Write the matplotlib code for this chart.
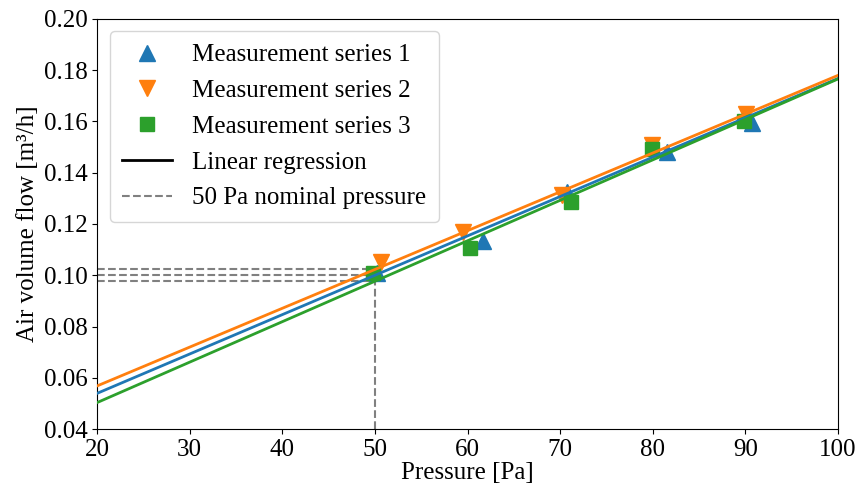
import matplotlib
matplotlib.use("Agg")
import matplotlib.pyplot as plt
from matplotlib.lines import Line2D

p1 = [50.2, 61.7, 70.7, 81.5, 90.7]
q1 = [0.1007, 0.1135, 0.1325, 0.1480, 0.1595]
p2 = [50.7, 59.5, 70.2, 79.9, 90.1]
q2 = [0.1050, 0.1170, 0.1312, 0.1510, 0.1628]
p3 = [49.8, 60.3, 71.2, 79.9, 89.8]
q3 = [0.1010, 0.1105, 0.1285, 0.1494, 0.1600]

# regression line end points
reg_p = [20, 100]
reg_q1 = [0.0539, 0.1768]
reg_q2 = [0.0568, 0.1780]
reg_q3 = [0.0503, 0.1766]

# flow at 50 Pa nominal pressure per series
nominal_p = 50
nominal_q = [0.1000, 0.1023, 0.0977]

colors = ["#1f77b4", "#ff7f0e", "#2ca02c"]

plt.rcParams["font.family"] = ["Liberation Serif", "DejaVu Serif"]
plt.rcParams["font.size"] = 18

fig, ax = plt.subplots(figsize=(8.61, 4.93), dpi=100)
fig.subplots_adjust(left=0.1127, right=0.9733, top=0.9615, bottom=0.1298)

ax.plot(p1, q1, "^", color=colors[0], ms=11, ls="none", zorder=2)
ax.plot(p2, q2, "v", color=colors[1], ms=11, ls="none", zorder=2)
ax.plot(p3, q3, "s", color=colors[2], ms=10.5, ls="none", zorder=2)

for q, c in zip([reg_q1, reg_q2, reg_q3], colors):
    ax.plot(reg_p, q, "-", color=c, lw=2, zorder=3)

for q in nominal_q:
    ax.plot([20, nominal_p], [q, q], "--", color="gray", lw=1.5, zorder=1)
ax.plot([nominal_p, nominal_p], [0.04, max(nominal_q)], "--", color="gray", lw=1.5, zorder=1)

ax.set_xlim(20, 100)
ax.set_ylim(0.04, 0.20)
ax.set_xticks(range(20, 101, 10))
ax.set_yticks([0.04, 0.06, 0.08, 0.10, 0.12, 0.14, 0.16, 0.18, 0.20])
ax.yaxis.set_major_formatter(matplotlib.ticker.FormatStrFormatter("%.2f"))
ax.tick_params(labelsize=18)
ax.set_xlabel("Pressure [Pa]", labelpad=1)
ax.set_ylabel("Air volume flow [m³/h]", labelpad=3)

handles = [
    Line2D([], [], marker="^", ls="none", color=colors[0], ms=11),
    Line2D([], [], marker="v", ls="none", color=colors[1], ms=11),
    Line2D([], [], marker="s", ls="none", color=colors[2], ms=10.5),
    Line2D([], [], color="black", lw=2),
    Line2D([], [], color="gray", lw=1.5, ls="--"),
]
labels = ["Measurement series 1", "Measurement series 2", "Measurement series 3",
          "Linear regression", "50 Pa nominal pressure"]
ax.legend(handles, labels, loc="upper left", fontsize=18, labelspacing=0.53,
          borderpad=0.5, handletextpad=0.8)

fig.savefig("out.png", dpi=100)
